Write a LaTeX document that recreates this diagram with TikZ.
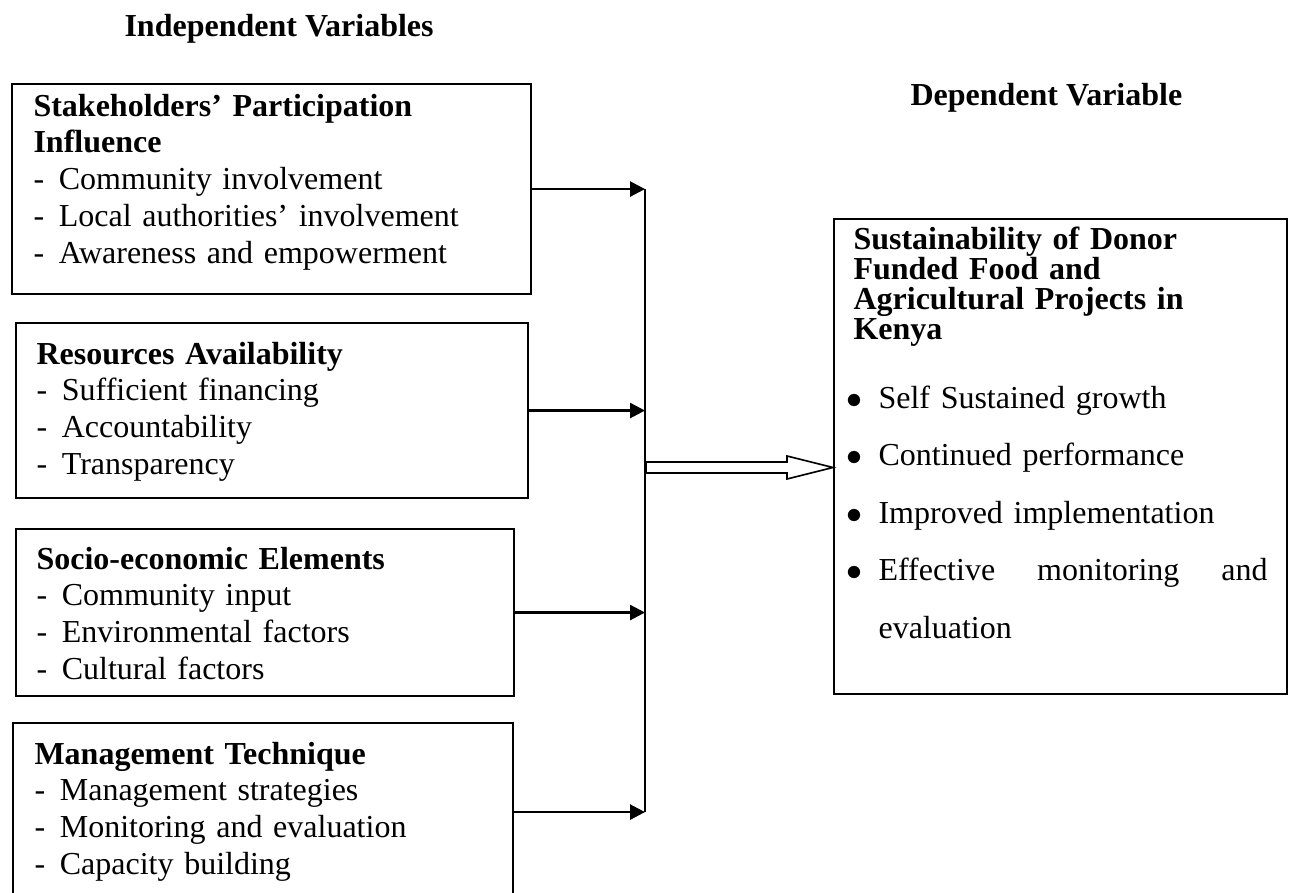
\documentclass[tikz,border=0pt]{standalone}
\usepackage{fontspec}
\setmainfont{Liberation Serif}
\usetikzlibrary{arrows.meta,calc}

\newcommand{\dashitem}[1]{\makebox[9.5pt][l]{-}#1}
\newcommand{\bulletitem}[1]{\makebox[12pt][l]{$\bullet$}#1}

\tikzset{
  varbox/.style={draw, line width=0.8pt, inner sep=0pt, anchor=north west},
  boxtext/.style={anchor=base west, inner sep=0pt, align=left, text width=#1,
    font=\fontsize{12}{13.8}\selectfont},
  heading/.style={anchor=base west, inner sep=0pt, font=\bfseries\fontsize{12}{13.8}\selectfont},
  feed/.style={-{Triangle[length=5.6pt,width=5.6pt]}, line width=1pt},
}

\begin{document}
\begin{tikzpicture}[x=0.375pt, y=-0.375pt]
    \useasboundingbox (0,0) rectangle (1295,892);
    % Headings
    \node[heading] (indep) at (124,36) {Independent Variables};
    \node[heading] (dep) at (910,105) {Dependent Variable};
    % Independent variable boxes
    \node[varbox, minimum width=194.6pt, minimum height=78.75pt] (stake) at (11,83) {};
    \node[varbox, minimum width=192pt, minimum height=65.6pt] (res) at (15,322) {};
    \node[varbox, minimum width=186.75pt, minimum height=62.6pt] (socio) at (15,528) {};
    \node[varbox, minimum width=187.5pt, minimum height=66.75pt] (mgmt) at (12,722) {};
    \node[boxtext=190pt] (stake text) at (33,116) {\textbf{Stakeholders' Participation}\\
        \textbf{Influence}\\ \dashitem{Community involvement}\\
        \dashitem{Local authorities' involvement}\\ \dashitem{Awareness and empowerment}};
    \node[boxtext=185pt] (res text) at (36,364) {\textbf{Resources Availability}\\
        \dashitem{Sufficient financing}\\ \dashitem{Accountability}\\ \dashitem{Transparency}};
    \node[boxtext=180pt] (socio text) at (36,569) {\textbf{Socio-economic Elements}\\
        \dashitem{Community input}\\ \dashitem{Environmental factors}\\ \dashitem{Cultural factors}};
    \node[boxtext=180pt] (mgmt text) at (34,764) {\textbf{Management Technique}\\
        \dashitem{Management strategies}\\ \dashitem{Monitoring and evaluation}\\
        \dashitem{Capacity building}};
    % Dependent variable box
    \node[varbox, minimum width=169.9pt, minimum height=178.1pt] (dv) at (833,218) {};
    \node[boxtext=165pt, font=\bfseries\fontsize{12}{11.25}\selectfont] (dv title) at (853,249)
        {Sustainability of Donor\\ Funded Food and\\ Agricultural Projects in\\ Kenya};
    \node[boxtext=165pt, font=\fontsize{12}{21.6}\selectfont] (dv items) at (846,408)
        {\bulletitem{Self Sustained growth}\\ \bulletitem{Continued performance}\\
        \bulletitem{Improved implementation}\\
        \bulletitem{\hbox to 145.9pt{Effective\hfill monitoring\hfill and}}\\
        \hspace*{12pt}evaluation};
    % Arrows into the collecting line
    \coordinate (bus) at (645,188);
    \draw[feed] (stake.east) -- (stake.east -| bus);
    \draw[feed] (res.east) -- (res.east -| bus);
    \draw[feed] (socio.east) -- (socio.east -| bus);
    \draw[feed] (mgmt.east) -- (mgmt.east -| bus);
    \draw[line width=1pt] (stake.east -| bus) -- (mgmt.east -| bus);
    % Hollow arrow to the dependent variable
    \coordinate (hub) at (646,467.5);
    \coordinate (tip) at (hub -| dv.west);
    \draw[line width=0.6pt] ($(hub)+(0,-5.5)$) -- ($(tip)+(-46,-5.5)$) -- ($(tip)+(-46,-11.5)$)
        -- (tip) -- ($(tip)+(-46,11.5)$) -- ($(tip)+(-46,5.5)$) -- ($(hub)+(0,5.5)$) -- cycle;
\end{tikzpicture}
\end{document}
